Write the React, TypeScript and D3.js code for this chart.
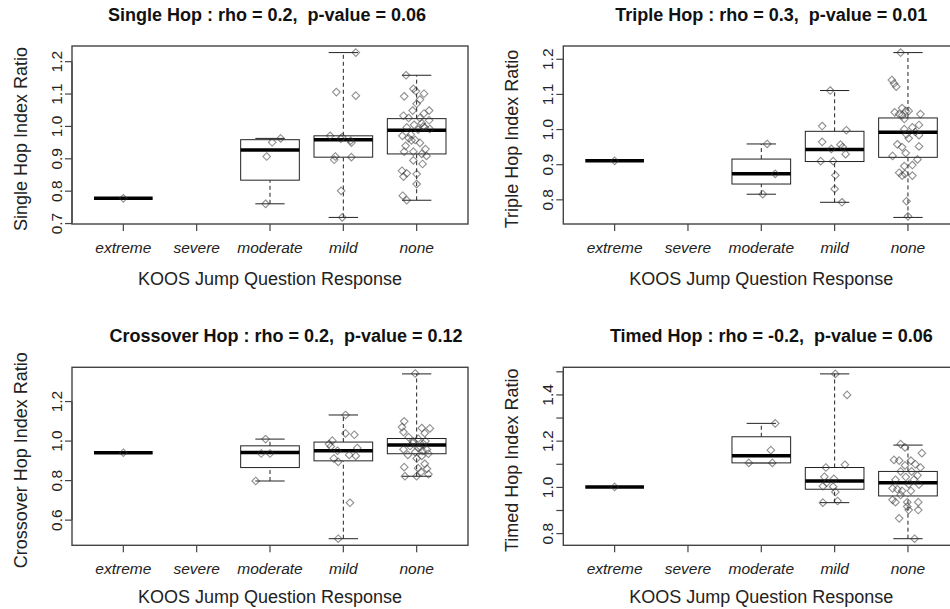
import React from 'react';
import * as d3 from 'd3';

const categories = ['extreme', 'severe', 'moderate', 'mild', 'none'];
const xAxisTitle = 'KOOS Jump Question Response';

const titles = [
  'Single Hop : rho = 0.2,  p-value = 0.06',
  'Triple Hop : rho = 0.3,  p-value = 0.01',
  'Crossover Hop : rho = 0.2,  p-value = 0.12',
  'Timed Hop : rho = -0.2,  p-value = 0.06',
];
const yTitles = ['Single Hop Index Ratio', 'Triple Hop Index Ratio', 'Crossover Hop Index Ratio', 'Timed Hop Index Ratio'];

// box stats per category: [lower whisker, lower hinge, median, upper hinge, upper whisker]
const singleStats = [
  [0.778, 0.778, 0.778, 0.778, 0.778], null,
  [0.761, 0.834, 0.927, 0.959, 0.963],
  [0.719, 0.905, 0.959, 0.971, 1.228],
  [0.772, 0.915, 0.988, 1.024, 1.158],
];
const tripleStats = [
  [0.911, 0.911, 0.911, 0.911, 0.911], null,
  [0.816, 0.845, 0.874, 0.916, 0.959],
  [0.793, 0.909, 0.943, 0.995, 1.111],
  [0.750, 0.921, 0.992, 1.033, 1.219],
];
const crossStats = [
  [0.941, 0.941, 0.941, 0.941, 0.941], null,
  [0.798, 0.866, 0.942, 0.976, 1.010],
  [0.506, 0.900, 0.951, 0.995, 1.132],
  [0.822, 0.936, 0.980, 1.013, 1.340],
];
const timedStats = [
  [1.002, 1.002, 1.002, 1.002, 1.002], null,
  [1.106, 1.106, 1.137, 1.219, 1.277],
  [0.934, 0.992, 1.028, 1.086, 1.491],
  [0.778, 0.963, 1.020, 1.069, 1.183],
];

// individual observations: [value, horizontal jitter in category units]
const singlePoints = [
  [[0.778, 0]],
  [],
  [[0.963, 0.145], [0.951, 0.03], [0.907, -0.045], [0.761, -0.06]],
  [[1.228, 0.17], [1.106, -0.095], [1.095, 0.17], [0.971, -0.18], [0.967, -0.015], [0.962, -0.035], [0.956, 0.1],
   [0.95, 0.11], [0.907, -0.11], [0.897, -0.125], [0.905, 0.11], [0.801, -0.03], [0.719, -0.015]],
  [[1.158, -0.145], [1.116, -0.045], [1.109, -0.01], [1.093, -0.17], [1.101, 0.1], [1.083, 0.045], [1.07, 0],
   [1.049, 0.17], [1.049, -0.055], [1.033, -0.18], [1.026, -0.11], [1.026, 0.045], [1.019, 0.17], [1.01, 0.07],
   [1.005, -0.035], [0.997, -0.135], [0.997, 0.11], [0.992, 0.18], [0.971, -0.195], [0.964, -0.11], [0.957, -0.07],
   [0.958, -0.02], [0.949, 0.045], [0.922, -0.17], [0.922, -0.045], [0.915, 0.07], [0.909, 0.135], [0.895, -0.045],
   [0.884, 0.08], [0.863, -0.2], [0.855, -0.135], [0.853, 0], [0.845, -0.18], [0.822, 0], [0.786, -0.19],
   [0.772, -0.135], [0.99, 0.02], [1.0, 0.09], [0.975, -0.08], [0.93, 0.12], [0.94, -0.15], [1.04, 0.1]],
];
const triplePoints = [
  [[0.911, 0]],
  [],
  [[0.959, 0.08], [0.874, 0.19], [0.816, 0.02]],
  [[1.111, -0.06], [1.01, -0.17], [0.998, 0.16], [0.965, -0.17], [0.957, 0.08], [0.95, 0.11], [0.945, -0.045],
   [0.93, 0.15], [0.91, -0.19], [0.91, -0.02], [0.87, 0.01], [0.831, 0], [0.793, 0.1]],
  [[1.219, -0.1], [1.141, -0.22], [1.131, -0.19], [1.122, -0.16], [1.061, -0.08], [1.049, -0.18], [1.044, -0.12],
   [1.04, -0.08], [1.053, -0.03], [1.053, 0.01], [1.044, 0.17], [1.03, -0.05], [1.013, 0.15], [1.006, 0.06],
   [1.001, -0.05], [0.993, 0.1], [0.986, -0.02], [0.984, 0.15], [0.975, 0.01], [0.958, -0.145], [0.952, 0.15],
   [0.95, -0.08], [0.933, -0.03], [0.925, -0.21], [0.915, 0.13], [0.899, 0.06], [0.896, -0.05], [0.877, -0.12],
   [0.869, -0.08], [0.874, -0.04], [0.869, 0.06], [0.796, -0.02], [0.753, 0]],
];
const crossPoints = [
  [[0.941, 0]],
  [],
  [[1.01, -0.06], [0.937, -0.12], [0.937, 0], [0.798, -0.195]],
  [[1.132, 0.03], [1.039, 0.03], [1.032, 0.15], [1.002, -0.15], [0.985, -0.195], [0.973, -0.17], [0.951, -0.08],
   [0.965, 0.19], [0.93, 0.08], [0.925, 0.17], [0.912, -0.13], [0.895, -0.07], [0.688, 0.09], [0.506, -0.07]],
  [[1.342, -0.02], [1.1, -0.17], [1.071, -0.2], [1.046, -0.18], [1.066, 0.07], [1.064, 0.18], [1.04, 0.11],
   [1.02, -0.11], [1.012, 0.02], [0.998, -0.045], [0.986, 0.09], [0.975, -0.09], [0.965, 0.02], [0.957, 0.14],
   [0.958, -0.18], [0.944, -0.02], [0.936, 0.16], [0.925, 0.07], [0.912, 0], [0.885, 0.11], [0.868, -0.17],
   [0.863, 0.02], [0.86, 0.14], [0.843, 0.06], [0.822, -0.16], [0.822, 0], [0.832, 0.16], [0.99, -0.05],
   [0.97, 0.05], [1.0, 0.12], [0.95, 0.08], [0.93, -0.12]],
];
const timedPoints = [
  [[1.002, 0]],
  [],
  [[1.277, 0.19], [1.161, 0.13], [1.106, -0.17], [1.106, 0.15]],
  [[1.491, 0.01], [1.4, 0.17], [1.098, 0.14], [1.086, -0.12], [1.046, -0.14], [1.037, -0.01], [1.02, -0.11],
   [1.005, -0.16], [1.003, -0.02], [0.98, 0.01], [0.941, 0.04], [0.934, -0.16]],
  [[1.187, -0.1], [1.173, -0.04], [1.148, 0.19], [1.119, -0.19], [1.116, -0.12], [1.116, 0.04], [1.095, -0.04],
   [1.1, 0.1], [1.086, 0.17], [1.069, -0.1], [1.069, 0.05], [1.052, 0.13], [1.045, -0.03], [1.033, -0.17],
   [1.033, 0.08], [1.014, 0.01], [1.012, 0.15], [0.996, -0.21], [0.992, -0.145], [0.985, -0.08], [0.985, 0.04],
   [0.967, -0.1], [0.946, -0.21], [0.936, -0.17], [0.936, -0.01], [0.936, 0.14], [0.917, -0.01], [0.902, 0.14],
   [0.902, 0.01], [0.866, -0.12], [0.778, 0.09]],
];

const singleTicks = [0.7, 0.8, 0.9, 1.0, 1.1, 1.2];
const singleTickLabels = ['0.7', '0.8', '0.9', '1.0', '1.1', '1.2'];
const tripleTicks = [0.8, 0.9, 1.0, 1.1, 1.2];
const tripleTickLabels = ['0.8', '0.9', '1.0', '1.1', '1.2'];
const crossTicks = [0.6, 0.8, 1.0, 1.2];
const crossTickLabels = ['0.6', '0.8', '1.0', '1.2'];
const timedTicks = [0.8, 0.9, 1.0, 1.1, 1.2, 1.3, 1.4, 1.5];
const timedTickLabels = ['0.8', '', '1.0', '', '1.2', '', '1.4', ''];

const FONT = '"Liberation Sans", Arial, Helvetica, sans-serif';

type Panel = {
  title: string; ylab: string; stats: (number[] | null)[]; points: number[][][];
  ticks: number[]; tickLabels: string[]; left: number; top: number; titleShift: number; xlabGap: number;
};

const panels: Panel[] = [
  { title: titles[0], ylab: yTitles[0], stats: singleStats, points: singlePoints, ticks: singleTicks, tickLabels: singleTickLabels, left: 72, top: 46, titleShift: -3, xlabGap: 61 },
  { title: titles[1], ylab: yTitles[1], stats: tripleStats, points: triplePoints, ticks: tripleTicks, tickLabels: tripleTickLabels, left: 563.3, top: 46, titleShift: 10, xlabGap: 61 },
  { title: titles[2], ylab: yTitles[2], stats: crossStats, points: crossPoints, ticks: crossTicks, tickLabels: crossTickLabels, left: 72, top: 367.3, titleShift: 16, xlabGap: 58 },
  { title: titles[3], ylab: yTitles[3], stats: timedStats, points: timedPoints, ticks: timedTicks, tickLabels: timedTickLabels, left: 563.3, top: 367.3, titleShift: 10, xlabGap: 58 },
];

const PW = 396;
const PH = 178;

function diamond(cx: number, cy: number, r: number) {
  return `M${cx},${cy - r}L${cx + r},${cy}L${cx},${cy + r}L${cx - r},${cy}Z`;
}

function BoxPanel({ p }: { p: Panel }) {
  const left = p.left, top = p.top, bottom = p.top + PH, right = p.left + PW;
  const all = p.stats.flatMap((s) => (s ? s : []));
  const lo = d3.min(all) as number, hi = d3.max(all) as number;
  const pad = (hi - lo) * 0.04;
  const x = d3.scaleLinear().domain([0.3, 5.7]).range([left, right]);
  const y = d3.scaleLinear().domain([lo - pad, hi + pad]).range([bottom, top]);
  const hw = x(0.4) - x(0);
  const sw = x(0.2) - x(0);
  const cx = (left + right) / 2;
  const cy = (top + bottom) / 2;
  return (
    <g>
      <text x={cx + p.titleShift} y={top - 25} textAnchor="middle" fontFamily={FONT} fontWeight="bold" fontSize={18} fill="#111" style={{ whiteSpace: 'pre' }} xmlSpace="preserve">{p.title}</text>
      {p.stats.map((s, i) => {
        if (!s) return null;
        const xc = x(i + 1);
        return (
          <g key={'b' + i} stroke="#222" fill="none">
            <line x1={xc} x2={xc} y1={y(s[0])} y2={y(s[1])} strokeDasharray="4,3" strokeWidth={1} />
            <line x1={xc} x2={xc} y1={y(s[3])} y2={y(s[4])} strokeDasharray="4,3" strokeWidth={1} />
            <line x1={xc - sw} x2={xc + sw} y1={y(s[0])} y2={y(s[0])} strokeWidth={1} />
            <line x1={xc - sw} x2={xc + sw} y1={y(s[4])} y2={y(s[4])} strokeWidth={1} />
            <rect x={xc - hw} y={y(s[3])} width={2 * hw} height={Math.max(0, y(s[1]) - y(s[3]))} strokeWidth={1} fill="white" />
            <line x1={xc - hw} x2={xc + hw} y1={y(s[2])} y2={y(s[2])} strokeWidth={3.5} stroke="#000" />
          </g>
        );
      })}
      {p.points.map((grp, i) =>
        grp.map((pt, k) => (
          <path key={'p' + i + '-' + k} d={diamond(x(i + 1 + pt[1]), y(pt[0]), 3.8)} fill="none" stroke="#333" strokeOpacity={0.55} strokeWidth={1.1} />
        ))
      )}
      <rect x={left} y={top} width={PW} height={PH} fill="none" stroke="#444" strokeWidth={1.4} />
      <line x1={left} x2={left} y1={y(p.ticks[0])} y2={y(p.ticks[p.ticks.length - 1])} stroke="#444" strokeWidth={1.2} />
      {p.ticks.map((t, i) => (
        <g key={'yt' + i}>
          <line x1={left - 7} x2={left} y1={y(t)} y2={y(t)} stroke="#444" strokeWidth={1.2} />
          {p.tickLabels[i] ? (
            <text transform={`translate(${left - 10},${y(t)}) rotate(-90)`} textAnchor="middle" fontFamily={FONT} fontSize={15.5} fill="#222">{p.tickLabels[i]}</text>
          ) : null}
        </g>
      ))}
      {categories.map((c, i) => (
        <g key={'xt' + i}>
          <line x1={x(i + 1)} x2={x(i + 1)} y1={bottom} y2={bottom + 7} stroke="#444" strokeWidth={1.2} />
          <text x={x(i + 1)} y={bottom + 29} textAnchor="middle" fontFamily={FONT} fontStyle="italic" fontSize={15.5} fill="#222">{c}</text>
        </g>
      ))}
      <text x={cx} y={bottom + p.xlabGap} textAnchor="middle" fontFamily={FONT} fontSize={18} fill="#222">{xAxisTitle}</text>
      <text transform={`translate(${left - 45},${cy + 4}) rotate(-90)`} textAnchor="middle" fontFamily={FONT} fontSize={18} fill="#222">{p.ylab}</text>
    </g>
  );
}

export default function App() {
  return (
    <svg width={950} height={609} style={{ position: 'fixed', left: 0, top: 0, background: 'white' }}>
      <rect x={0} y={0} width={950} height={609} fill="white" />
      {panels.map((p, i) => (
        <BoxPanel key={i} p={p} />
      ))}
    </svg>
  );
}
